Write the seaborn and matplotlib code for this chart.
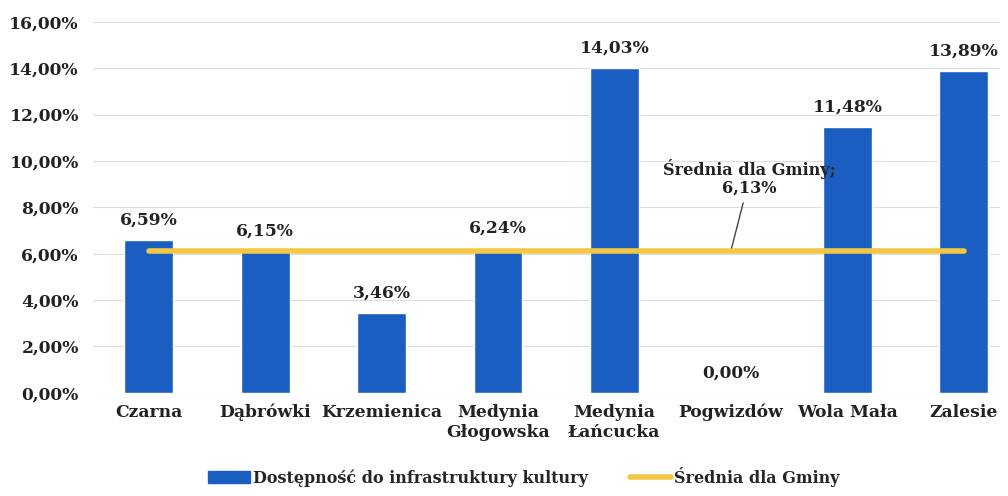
import pandas as pd
import seaborn as sns
import matplotlib.pyplot as plt
from matplotlib.patches import Patch
from matplotlib.lines import Line2D

miejscowosci = ["Czarna", "Dąbrówki", "Krzemienica", "Medynia\nGłogowska",
                "Medynia\nŁańcucka", "Pogwizdów", "Wola Mała", "Zalesie"]
dostepnosc = [6.59, 6.15, 3.46, 6.24, 14.03, 0.00, 11.48, 13.89]
srednia = [6.13] * len(miejscowosci)
y_ticks = [0, 2, 4, 6, 8, 10, 12, 14, 16]

blue = "#1b5ec2"
yellow = "#f2c744"

sns.set_style("white")
plt.rcParams["font.family"] = ["DejaVu Serif"]
plt.rcParams["font.weight"] = "bold"

df = pd.DataFrame({"miejscowosc": miejscowosci, "wartosc": dostepnosc, "srednia": srednia})
df["poz"] = range(len(df))

fig = plt.figure(figsize=(10.08, 4.96), dpi=100)
ax = fig.add_axes([0.092, 0.208, 0.900, 0.748])

sns.barplot(data=df, x="miejscowosc", y="wartosc", color=blue, width=0.42,
            saturation=1, ax=ax, zorder=2)
sns.lineplot(data=df, x="poz", y="srednia", color=yellow, linewidth=4,
             ax=ax, zorder=3, solid_capstyle="round")

fs = 12.3
for i, v in enumerate(dostepnosc):
    ax.annotate(f"{v:.2f}%".replace(".", ","), (i, v), xytext=(0, 8),
                textcoords="offset points", ha="center", va="bottom",
                fontsize=fs, fontweight="bold", color="#222222")

ax.annotate("Średnia dla Gminy;\n6,13%", xy=(5.0, srednia[0]), xytext=(5.16, 8.45),
            ha="center", va="bottom", fontsize=11.6, fontweight="bold",
            color="#222222", linespacing=1.05,
            arrowprops=dict(arrowstyle="-", color="#444444", lw=1))

ax.set_ylim(0, 16)
ax.set_xlim(-0.48, 7.31)
ax.set_yticks(y_ticks)
ax.set_yticklabels([f"{t:.2f}%".replace(".", ",") for t in y_ticks])
ax.grid(axis="y", color="#dddddd", linewidth=0.8, zorder=0)
ax.set_axisbelow(True)
ax.set_xlabel("")
ax.set_ylabel("")
ax.tick_params(axis="both", length=0, labelsize=fs, colors="#222222")
ax.tick_params(axis="y", pad=10)
ax.tick_params(axis="x", pad=8)
for s in ax.spines.values():
    s.set_visible(False)

handles = [Patch(facecolor=blue, edgecolor=blue),
           Line2D([0], [0], color=yellow, linewidth=4)]
fig.legend(handles, ["Dostępność do infrastruktury kultury", "Średnia dla Gminy"],
           loc="lower center", bbox_to_anchor=(0.52, -0.01), ncol=2, frameon=False,
           fontsize=11.5, handlelength=2.6, columnspacing=2.6, handletextpad=0.2)

fig.savefig("out.png", dpi=100)
